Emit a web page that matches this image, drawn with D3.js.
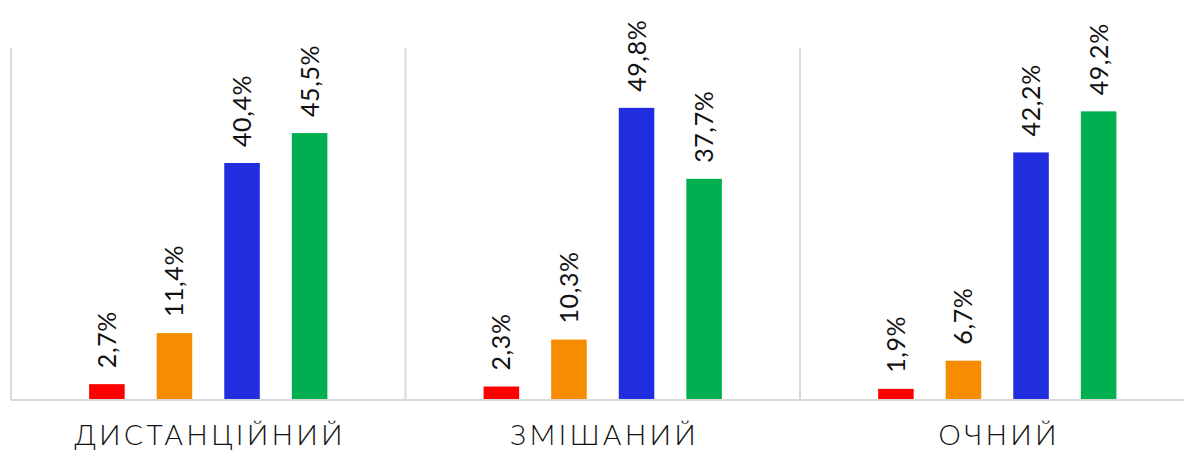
<!DOCTYPE html>
<html>
<head>
<meta charset="utf-8">
<script src="https://cdn.jsdelivr.net/npm/d3@7"></script>
<style>
  body { margin: 0; background: #fff; }
  .chart { width: 1184px; height: 451px; overflow: hidden; }
  text { font-family: Lato, "Open Sans", sans-serif; fill: #111; }
</style>
</head>
<body>
<div class="chart"></div>
<script>
// chart data
const categories = ['ДИСТАНЦІЙНИЙ', 'ЗМІШАНИЙ', 'ОЧНИЙ'];
const seriesNames = ['s1', 's2', 's3', 's4'];
const colors = ['#ff0000', '#f78c00', '#212ee0', '#00af50'];
const values = [
  [2.7, 11.4, 40.4, 45.5],
  [2.3, 10.3, 49.8, 37.7],
  [1.9, 6.7, 42.2, 49.2]
];
const labels = [
  ['2,7%', '11,4%', '40,4%', '45,5%'],
  ['2,3%', '10,3%', '49,8%', '37,7%'],
  ['1,9%', '6,7%', '42,2%', '49,2%']
];

const width = d3.select('.chart').node().clientWidth;
const height = d3.select('.chart').node().clientHeight;

const svg = d3.select('.chart')
  .append('svg')
  .attr('width', width)
  .attr('height', height);

const left = 11;
const groupW = 394.5;
const baseY = 400;
const topY = 48;

//outer scale: one band per category
const x0 = d3.scaleBand()
  .domain(categories)
  .range([left, left + groupW * categories.length])
  .padding(0);

//inner scale: bars inside a category
const x1 = d3.scaleBand()
  .domain(seriesNames)
  .range([0, x0.bandwidth()])
  .paddingInner(0.474)
  .paddingOuter(1.156);

const y = d3.scaleLinear()
  .domain([0, 60])
  .range([baseY, topY]);

//vertical separators between categories
const seps = categories.map(c => x0(c)).concat([x0.range()[1]]);
svg.selectAll('.sep')
  .data(seps)
  .enter()
  .append('line')
  .attr('class', 'sep')
  .attr('x1', d => d)
  .attr('x2', d => d)
  .attr('y1', topY)
  .attr('y2', baseY)
  .style('stroke', '#d9d9d9')
  .style('stroke-width', '2px');

const groups = svg.selectAll('.group')
  .data(categories)
  .enter()
  .append('g')
  .attr('class', 'group')
  .attr('transform', d => `translate(${x0(d)},0)`);

groups.selectAll('rect')
  .data((d, i) => values[i].map((v, j) => ({ v: v, s: seriesNames[j], c: colors[j] })))
  .enter()
  .append('rect')
  .attr('x', d => x1(d.s))
  .attr('y', d => y(d.v))
  .attr('width', x1.bandwidth())
  .attr('height', d => baseY - y(d.v))
  .style('fill', d => d.c);

groups.selectAll('.val')
  .data((d, i) => values[i].map((v, j) => ({ v: v, s: seriesNames[j], t: labels[i][j] })))
  .enter()
  .append('text')
  .attr('class', 'val')
  .attr('transform', d => `translate(${x1(d.s) + x1.bandwidth() / 2},${y(d.v) - 16}) rotate(-90)`)
  .attr('dy', '0.36em')
  .style('font-size', '25px')
  .style('letter-spacing', '0.6px')
  .text(d => d.t);

//baseline
svg.append('line')
  .attr('x1', left)
  .attr('x2', width)
  .attr('y1', baseY)
  .attr('y2', baseY)
  .style('stroke', '#d9d9d9')
  .style('stroke-width', '2px');

//category labels
groups.append('text')
  .attr('x', x0.bandwidth() / 2 + 2)
  .attr('y', 445)
  .attr('text-anchor', 'middle')
  .style('font-size', '28px')
  .style('font-weight', 300)
  .style('letter-spacing', '3.6px')
  .text(d => d);
</script>
</body>
</html>
